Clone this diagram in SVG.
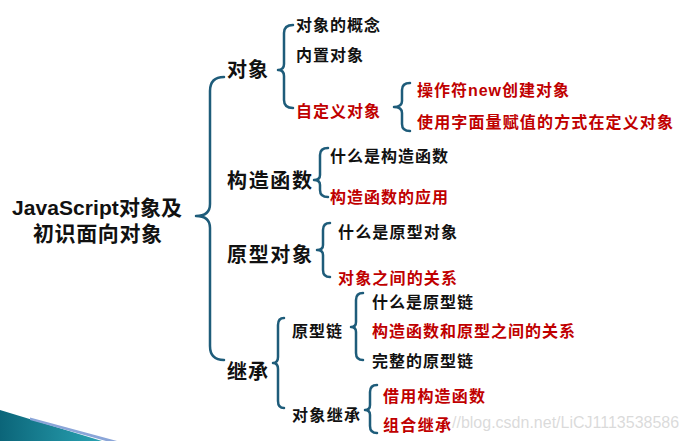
<svg xmlns="http://www.w3.org/2000/svg" width="689" height="441" viewBox="0 0 689 441">
<style>
text{font-family:"Liberation Sans","Noto Sans CJK SC",sans-serif;font-weight:bold;}
.root{font-size:21px;fill:#111;}
.l1{font-size:20px;fill:#111;}
.l2{font-size:16px;fill:#111;}
.red{font-size:16px;fill:#c00000;}
.brace{fill:none;stroke:#1e5c7a;stroke-width:2.5;stroke-linecap:round;stroke-linejoin:round;}
.wm{font-family:"Liberation Sans",sans-serif;font-weight:normal;font-size:16px;fill:#d4d4d4;fill-opacity:0.85;}
</style>
<defs>
<linearGradient id="teal" x1="0" y1="0" x2="1" y2="0">
<stop offset="0" stop-color="#0b6579"/>
<stop offset="1" stop-color="#2aa3b3"/>
</linearGradient>
</defs>
<rect width="689" height="441" fill="#fff"/>
<g id="decoration">
<polygon points="0,410 102,441 0,441" fill="url(#teal)"/>
<polygon points="30,417.6 117,441 106,441 30,420" fill="#8aa5d8"/>
</g>
<g id="connectors">
<path class="brace" d="M224,77 Q210,77 210,91 L210,204 Q210,216 196,216 Q210,216 210,228 L210,346 Q210,360 224,360"/>
<path class="brace" d="M293,25 Q284,25 284,33 L284,64 Q284,70 278,70 Q284,70 284,76 L284,100 Q284,108 293,108"/>
<path class="brace" d="M410,83 Q402,83 402,90 L402,101 Q402,107 394,107 Q402,107 402,113 L402,124 Q402,131 410,131"/>
<path class="brace" d="M328,148 Q320,148 320,155 L320,175 Q320,180 314,180 Q320,180 320,185 L320,190 Q320,197 328,197"/>
<path class="brace" d="M330,223 Q323,223 323,230 L323,245 Q323,250 317,250 Q323,250 323,255 L323,270 Q323,277 330,277"/>
<path class="brace" d="M284,318 Q278,318 278,325 L278,357 Q278,363 273,363 Q278,363 278,369 L278,401 Q278,408 284,408"/>
<path class="brace" d="M363,293 Q356,293 356,300 L356,322 Q356,327 351,327 Q356,327 356,332 L356,353 Q356,360 363,360"/>
<path class="brace" d="M377,385 Q370,385 370,392 L370,405 Q370,410 365,410 Q370,410 370,415 L370,426 Q370,433 377,433"/>
</g>
<g id="root">
<text class="root" x="12" y="215" textLength="170">JavaScript对象及</text>
<text class="root" x="33" y="241" textLength="129">初识面向对象</text>
</g>
<g id="n-object"><text class="l1" x="227" y="77" textLength="41">对象</text></g>
<g id="n-constructor"><text class="l1" x="227" y="188" textLength="85">构造函数</text></g>
<g id="n-prototype"><text class="l1" x="227" y="262" textLength="85">原型对象</text></g>
<g id="n-inherit"><text class="l1" x="227" y="379" textLength="41">继承</text></g>
<g id="n-concept"><text class="l2" x="296" y="31" textLength="84">对象的概念</text></g>
<g id="n-builtin"><text class="l2" x="296" y="61" textLength="67">内置对象</text></g>
<g id="n-custom"><text class="red" x="296" y="117" textLength="84">自定义对象</text></g>
<g id="n-new"><text class="red" x="417" y="96" textLength="152">操作符new创建对象</text></g>
<g id="n-literal"><text class="red" x="417" y="128" textLength="256">使用字面量赋值的方式在定义对象</text></g>
<g id="n-what-constructor"><text class="l2" x="330" y="162" textLength="118">什么是构造函数</text></g>
<g id="n-use-constructor"><text class="red" x="330" y="203" textLength="118">构造函数的应用</text></g>
<g id="n-what-prototype"><text class="l2" x="338" y="238" textLength="119">什么是原型对象</text></g>
<g id="n-relation"><text class="red" x="338" y="284" textLength="119">对象之间的关系</text></g>
<g id="n-chain"><text class="l2" x="292" y="337" textLength="50">原型链</text></g>
<g id="n-obj-inherit"><text class="l2" x="292" y="421" textLength="68">对象继承</text></g>
<g id="n-what-chain"><text class="l2" x="372" y="308" textLength="101">什么是原型链</text></g>
<g id="n-ctor-proto"><text class="red" x="372" y="337" textLength="203">构造函数和原型之间的关系</text></g>
<g id="n-full-chain"><text class="l2" x="372" y="367" textLength="101">完整的原型链</text></g>
<g id="n-borrow"><text class="red" x="383" y="402" textLength="102">借用构造函数</text></g>
<g id="n-combo"><text class="red" x="383" y="431" textLength="68">组合继承</text></g>
<text class="wm" x="452" y="428">//blog.csdn.net/LiCJ1113538586</text>
</svg>
